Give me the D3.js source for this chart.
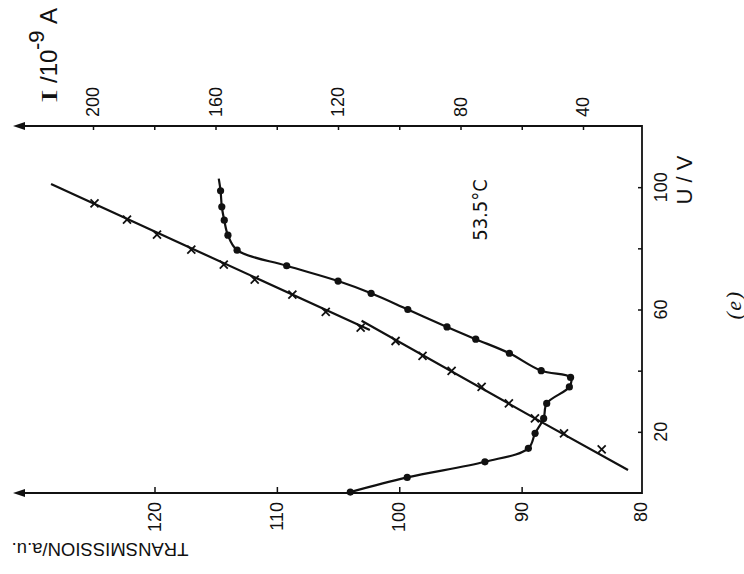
<!DOCTYPE html>
<html>
<head>
<meta charset="utf-8">
<script src="https://cdn.jsdelivr.net/npm/d3@7"></script>
<style>
  html, body { margin: 0; padding: 0; background: #fff; }
  svg { display: block; }
</style>
</head>
<body>
<svg id="chart" width="744" height="574"></svg>
<script>
// ---------------- data ----------------
// Transmission (a.u.) vs voltage U (V)  -- dots
const transU = [0.3, 5.1, 10.2, 14.6, 19.5, 24.4, 29.3, 34.7, 37.8, 40.0, 45.7, 50.3, 54.3, 60.0, 65.3, 69.3, 74.3, 79.4, 84.3, 89.2, 93.6, 98.8];
const transT = [104.0, 99.35, 93.0, 89.45, 88.9, 88.2, 87.95, 86.1, 86.0, 88.4, 91.0, 93.75, 96.1, 99.3, 102.3, 105.0, 109.2, 113.25, 114.0, 114.3, 114.5, 114.6];
const transLineEndU = 102.8, transLineEndT = 114.75;

// Current I (1e-9 A) vs voltage U (V)  -- crosses
const currU = [94.7, 89.4, 84.5, 79.6, 74.7, 69.8, 64.9, 59.2, 54.1, 49.7, 44.8, 39.9, 34.7, 29.3, 24.4, 19.5, 14.3];
const currI = [199.5, 188.9, 179.1, 167.9, 157.3, 147.2, 134.9, 124.0, 112.6, 101.2, 92.4, 82.9, 73.1, 64.2, 55.7, 46.2, 33.9];
// hand-drawn straight line through the crosses, drawn in two strokes
const currLineAU = [101.0, 53.3], currLineAI = [213.7, 109.6];
const currLineBU = [56.3, 24.4, 7.5], currLineBI = [112.3, 55.7, 25.3];

// axes
const uTicks = [20, 40, 60, 80, 100];
const uLabels = [20, 60, 100];
const iTicks = [40, 60, 80, 100, 120, 140, 160, 180, 200];
const iLabels = [40, 80, 120, 160, 200];
const tTicks = [90, 100, 110, 120];
const tLabels = [80, 90, 100, 110, 120];

// ---------------- drawing ----------------
const svg = d3.select("#chart");
const FONT = "'Liberation Sans', Arial, sans-serif";
const SERIF = "'Liberation Serif', 'Times New Roman', serif";

// rotated figure: U runs upward on the right edge, transmission and current run leftward
const yU = d3.scaleLinear().domain([0, 120]).range([493, 126]);
const xT = d3.scaleLinear().domain([80, 120]).range([644, 154.5]);
const xI = d3.scaleLinear().domain([40, 200]).range([583, 93]);

const ink = "#111";
const axisX = 642;

// frame lines (right U axis, top I axis, bottom T axis)
const frame = svg.append("g").attr("fill", "none").attr("stroke", ink).attr("stroke-width", 1.8);
frame.append("path").attr("d", d3.line()([[20, yU(120)], [axisX, yU(120)], [axisX, yU(0)], [20, yU(0)]]));

// arrowheads at the left ends
[yU(120), yU(0)].forEach(y => {
  svg.append("path")
    .attr("d", `M13,${y} L25,${y - 4} L25,${y + 4} Z`)
    .attr("fill", ink);
});

// U axis ticks (pointing left/inward)
const uAxis = d3.axisLeft(yU).tickValues(uTicks).tickSize(4).tickFormat("");
const gU = svg.append("g").attr("transform", `translate(${axisX},0)`).call(uAxis);
gU.select(".domain").remove();
gU.selectAll("line").attr("stroke", ink).attr("stroke-width", 1.5);

// I axis ticks (top, pointing down)
const iAxis = d3.axisBottom(xI).tickValues(iTicks).tickSize(4).tickFormat("");
const gI = svg.append("g").attr("transform", `translate(0,${yU(120)})`).call(iAxis);
gI.select(".domain").remove();
gI.selectAll("line").attr("stroke", ink).attr("stroke-width", 1.5);

// T axis ticks (bottom, pointing up)
const tAxis = d3.axisTop(xT).tickValues(tTicks).tickSize(6).tickFormat("");
const gT = svg.append("g").attr("transform", `translate(0,${yU(0)})`).call(tAxis);
gT.select(".domain").remove();
gT.selectAll("line").attr("stroke", ink).attr("stroke-width", 1.5);

function rotText(x, y, str, size, anchor, extra) {
  const t = svg.append("text")
    .attr("transform", `translate(${x},${y}) rotate(-90)`)
    .attr("text-anchor", anchor)
    .attr("dominant-baseline", "central")
    .attr("font-family", FONT)
    .attr("font-size", size)
    .attr("fill", ink)
    .text(str);
  if (extra) extra(t);
  return t;
}
function baseText(x, y, str, size, family, scaleX) {
  return svg.append("text")
    .attr("transform", `translate(${x},${y}) rotate(-90)` + (scaleX ? ` scale(${scaleX},1)` : ""))
    .attr("font-family", family).attr("font-size", size).attr("fill", ink)
    .text(str);
}

// U tick labels
uLabels.forEach(v => rotText(661, yU(v), String(v), 18, "middle"));
// U axis title
rotText(684, 180, "U / V", 22, "middle");
// I tick labels
iLabels.forEach(v => rotText(xI(v), 117, String(v), 18, "start"));
// T tick labels
tLabels.forEach(v => rotText(xT(v) - (v === 80 ? 3 : 0), 502, String(v), 18, "end"));

// I axis title: "I / 10^-9 A"
baseText(57, 103, "I", 24, SERIF, 1.7);
baseText(57, 83, "/10", 24, FONT);
baseText(44, 50, "-9", 22, FONT);
baseText(57, 24, "A", 24, FONT);

// Transmission title (upside down)
svg.append("text")
  .attr("transform", "translate(100,549) rotate(180)")
  .attr("text-anchor", "middle")
  .attr("dominant-baseline", "central")
  .attr("font-family", FONT).attr("font-size", 18.5).attr("fill", ink)
  .text("TRANSMISSION/a.u.");

// temperature annotation
rotText(480, 210, "53.5°C", 20, "middle", t => t.attr("font-family", "'DejaVu Sans Condensed', 'DejaVu Sans', sans-serif"));
// panel label
rotText(733, 305, "(e)", 22, "middle", t => t.attr("font-family", SERIF).attr("font-style", "italic").attr("letter-spacing", 1.5));

// ---------------- data marks ----------------
const transPts = transU.map((u, i) => [xT(transT[i]), yU(u)]);
const transLinePts = transPts.concat([[xT(transLineEndT), yU(transLineEndU)]]);
svg.append("path")
  .attr("d", d3.line().curve(d3.curveCatmullRom.alpha(0.5))(transLinePts))
  .attr("fill", "none").attr("stroke", ink).attr("stroke-width", 2.2);
svg.append("g").selectAll("circle").data(transPts).join("circle")
  .attr("cx", d => d[0]).attr("cy", d => d[1]).attr("r", 3.6).attr("fill", ink);

const lineA = currLineAU.map((u, i) => [xI(currLineAI[i]), yU(u)]);
const lineB = currLineBU.map((u, i) => [xI(currLineBI[i]), yU(u)]);
[lineA, lineB].forEach(pts => {
  svg.append("path").attr("d", d3.line()(pts))
    .attr("fill", "none").attr("stroke", ink).attr("stroke-width", 2.2);
});
const currPts = currU.map((u, i) => [xI(currI[i]), yU(u)]);
svg.append("g").selectAll("path").data(currPts).join("path")
  .attr("transform", d => `translate(${d[0]},${d[1]})`)
  .attr("d", "M-4,-4L4,4M-4,4L4,-4")
  .attr("stroke", ink).attr("stroke-width", 1.8).attr("fill", "none");
</script>
</body>
</html>
